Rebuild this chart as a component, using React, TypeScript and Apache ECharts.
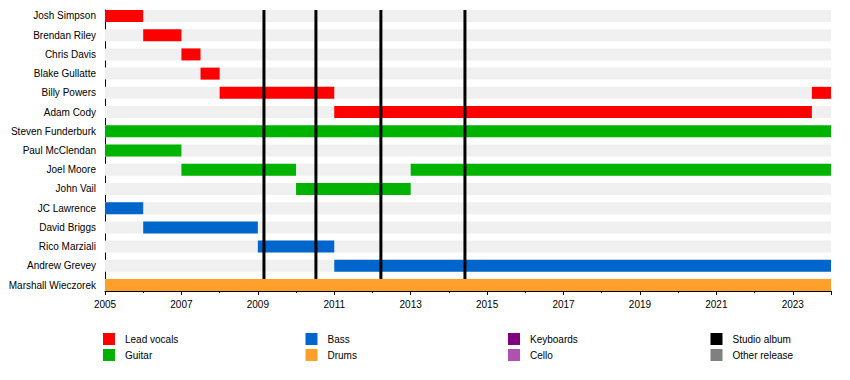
import React, { useEffect, useRef } from "react";
import * as echarts from "echarts";

const START_YEAR = 2005;
const END_YEAR = 2024;

const members = [
  "Josh Simpson",
  "Brendan Riley",
  "Chris Davis",
  "Blake Gullatte",
  "Billy Powers",
  "Adam Cody",
  "Steven Funderburk",
  "Paul McClendan",
  "Joel Moore",
  "John Vail",
  "JC Lawrence",
  "David Briggs",
  "Rico Marziali",
  "Andrew Grevey",
  "Marshall Wieczorek",
];

// one entry per bar
const barMember = [0, 1, 2, 3, 4, 4, 5, 6, 7, 8, 8, 9, 10, 11, 12, 13, 14];
const barStart = [2005, 2006, 2007, 2007.5, 2008, 2023.5, 2011, 2005, 2005, 2007, 2013, 2010, 2005, 2006, 2009, 2011, 2005];
const barEnd = [2006, 2007, 2007.5, 2008, 2011, 2024, 2023.5, 2024, 2007, 2010, 2024, 2013, 2006, 2009, 2011, 2024, 2024];
const barRole = [0, 0, 0, 0, 0, 0, 0, 1, 1, 1, 1, 1, 2, 2, 2, 2, 3];

const studioAlbums = [2009.16, 2010.52, 2012.22, 2014.42];

const legendLabels = ["Lead vocals", "Guitar", "Bass", "Drums", "Keyboards", "Cello", "Studio album", "Other release"];
const legendColors = ["#ff0000", "#00b300", "#0066cc", "#ffa02a", "#800080", "#b050b0", "#000000", "#808080"];

const FONT = "Liberation Sans, Arial, sans-serif";

export default function App() {
  const ref = useRef<HTMLDivElement>(null);

  useEffect(() => {
    if (!ref.current) return;
    const chart = echarts.init(ref.current, null, { renderer: "svg" });
    const span = END_YEAR - START_YEAR;
    const yMin = -0.31;
    const yMax = members.length - 1 + 0.31;
    const barH = 12;

    const stripeData = members.map((n, i) => [i, n]);
    const barData = barMember.map((m, k) => [barStart[k] - START_YEAR, barEnd[k] - START_YEAR, m, barRole[k]]);
    const albumData = studioAlbums.map((y) => [y - START_YEAR]);

    const graphics: any[] = [];
    legendLabels.forEach((label, i) => {
      const col = Math.floor(i / 2);
      const row = i % 2;
      const x = 103 + col * 202.5;
      const y = 333 + row * 16;
      graphics.push({
        type: "rect",
        shape: { x, y, width: 12, height: 12 },
        style: { fill: legendColors[i] },
      });
      graphics.push({
        type: "text",
        x: x + 22,
        y: y + 6,
        style: { text: label, fill: "#000", font: `10px ${FONT}`, verticalAlign: "middle", align: "left" },
      });
    });

    chart.setOption({
      animation: false,
      grid: { left: 105, right: 19, top: 10, bottom: 89, containLabel: false },
      xAxis: {
        type: "value",
        min: 0,
        max: span,
        interval: 2,
        axisLine: { onZero: false, lineStyle: { color: "#000", width: 1 } },
        axisTick: { show: true, length: 4, lineStyle: { color: "#000" } },
        minorTick: { show: true, splitNumber: 2, length: 2, lineStyle: { color: "#000" } },
        splitLine: { show: false },
        axisLabel: {
          margin: 8,
          color: "#000",
          fontSize: 10,
          fontFamily: FONT,
          formatter: (v: number) => (Math.round(v) % 2 === 0 && Math.abs(v - Math.round(v)) < 1e-6 ? String(START_YEAR + v) : ""),
        },
      },
      yAxis: {
        type: "value",
        inverse: true,
        min: yMin,
        max: yMax,
        axisLine: { show: true, onZero: false, lineStyle: { color: "#000", width: 1 } },
        axisTick: { show: false },
        axisLabel: { show: false },
        splitLine: { show: false },
      },
      series: [
        {
          type: "custom",
          clip: false,
          silent: true,
          data: stripeData,
          renderItem: (params: any, api: any) => {
            const i = api.value(0);
            const p0 = api.coord([0, i]);
            const p1 = api.coord([span, i]);
            return {
              type: "group",
              children: [
                {
                  type: "rect",
                  shape: { x: p0[0], y: p0[1] - barH / 2, width: p1[0] - p0[0], height: barH },
                  style: { fill: "#f0f0f0" },
                },
                {
                  type: "text",
                  x: p0[0] - 9,
                  y: p0[1],
                  style: {
                    text: members[i],
                    fill: "#000",
                    font: `10px ${FONT}`,
                    align: "right",
                    verticalAlign: "middle",
                  },
                },
              ],
            };
          },
          encode: { x: 0, y: 0 },
        },
        {
          type: "custom",
          silent: true,
          data: barData,
          encode: { x: [0, 1], y: 2 },
          renderItem: (params: any, api: any) => {
            const s = api.coord([api.value(0), api.value(2)]);
            const e = api.coord([api.value(1), api.value(2)]);
            return {
              type: "rect",
              shape: { x: s[0], y: s[1] - barH / 2, width: e[0] - s[0], height: barH },
              style: { fill: legendColors[api.value(3)] },
            };
          },
        },
        {
          type: "custom",
          silent: true,
          data: albumData,
          encode: { x: 0 },
          renderItem: (params: any, api: any) => {
            const top = api.coord([api.value(0), yMin]);
            const bot = api.coord([api.value(0), members.length - 1]);
            return {
              type: "line",
              shape: { x1: top[0], y1: top[1], x2: bot[0], y2: bot[1] - barH / 2 },
              style: { stroke: "#000", lineWidth: 3 },
            };
          },
        },
      ],
      graphic: graphics,
    });

    return () => chart.dispose();
  }, []);

  return (
    <div
      ref={ref}
      style={{ position: "fixed", left: 0, top: 0, width: 850, height: 380, background: "#fff" }}
    />
  );
}
